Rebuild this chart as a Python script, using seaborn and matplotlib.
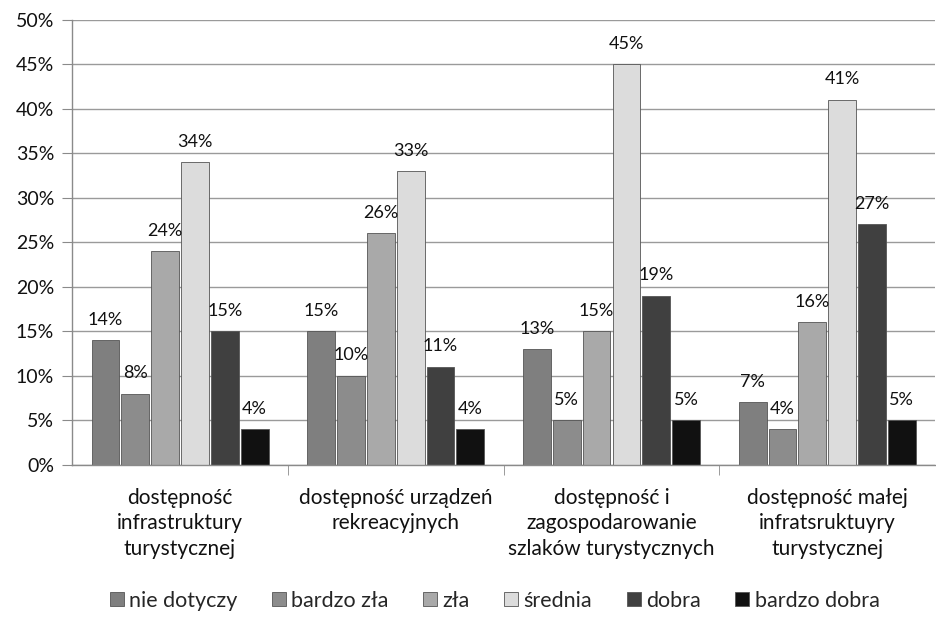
import pandas as pd
import seaborn as sns
import matplotlib.pyplot as plt
from matplotlib.ticker import PercentFormatter

# data (percent)
categories = [
    "dostępność\ninfrastruktury\nturystycznej",
    "dostępność urządzeń\nrekreacyjnych",
    "dostępność i\nzagospodarowanie\nszlaków turystycznych",
    "dostępność małej\ninfratsruktuyry\nturystycznej",
]
ratings = ["nie dotyczy", "bardzo zła", "zła", "średnia", "dobra", "bardzo dobra"]
nie_dotyczy = [14, 15, 13, 7]
bardzo_zla = [8, 10, 5, 4]
zla = [24, 26, 15, 16]
srednia = [34, 33, 45, 41]
dobra = [15, 11, 19, 27]
bardzo_dobra = [4, 4, 5, 5]

colors = ["#7f7f7f", "#8c8c8c", "#a9a9a9", "#dcdcdc", "#404040", "#111111"]

series = [nie_dotyczy, bardzo_zla, zla, srednia, dobra, bardzo_dobra]
rows = []
for r, vals in zip(ratings, series):
    for c, v in zip(categories, vals):
        rows.append({"kategoria": c, "ocena": r, "wartosc": v})
df = pd.DataFrame(rows)

sns.set_style("white")
plt.rcParams["font.family"] = ["Lato", "DejaVu Sans"]

fig = plt.figure(figsize=(9.37, 6.18), dpi=100)
ax = fig.add_axes([0.077, 0.248, 0.921, 0.72])

sns.barplot(data=df, x="kategoria", y="wartosc", hue="ocena", order=categories,
            hue_order=ratings, palette=colors, width=0.83, gap=0.07,
            edgecolor="#555555", linewidth=0.6, ax=ax, legend=True)

for cont in ax.containers:
    ax.bar_label(cont, fmt="%g%%", padding=9, fontsize=13, color="#111111")

ax.set_ylim(0, 50)
ax.set_xlim(-0.5, 3.5)
ax.set_yticks(range(0, 51, 5))
ax.yaxis.set_major_formatter(PercentFormatter(decimals=0))
ax.yaxis.grid(True, color="#9a9a9a", linewidth=1)
ax.set_axisbelow(True)
ax.set_xlabel("")
ax.set_ylabel("")

ax.tick_params(axis="y", labelsize=14, length=7, color="#8a8a8a", direction="out",
               left=True, pad=6, labelcolor="#111111")
ax.tick_params(axis="x", labelsize=15, bottom=False, pad=13, labelcolor="#111111")
for lbl in ax.get_xticklabels():
    lbl.set_linespacing(1.35)
# separators between groups below the axis
ax.set_xticks([0.5, 1.5, 2.5], minor=True)
ax.tick_params(axis="x", which="minor", bottom=True, length=7, color="#8a8a8a")

for side in ["top", "right"]:
    ax.spines[side].set_visible(False)
for side in ["left", "bottom"]:
    ax.spines[side].set_color("#8a8a8a")
    ax.spines[side].set_linewidth(1)

handles, labels = ax.get_legend_handles_labels()
ax.get_legend().remove()
fig.legend(handles, labels, loc="center", bbox_to_anchor=(0.528, 0.028), ncol=6,
           frameon=False, fontsize=15.5, handlelength=0.65, handleheight=0.65,
           handletextpad=0.25, columnspacing=1.6)

fig.savefig("out.png", dpi=100)
